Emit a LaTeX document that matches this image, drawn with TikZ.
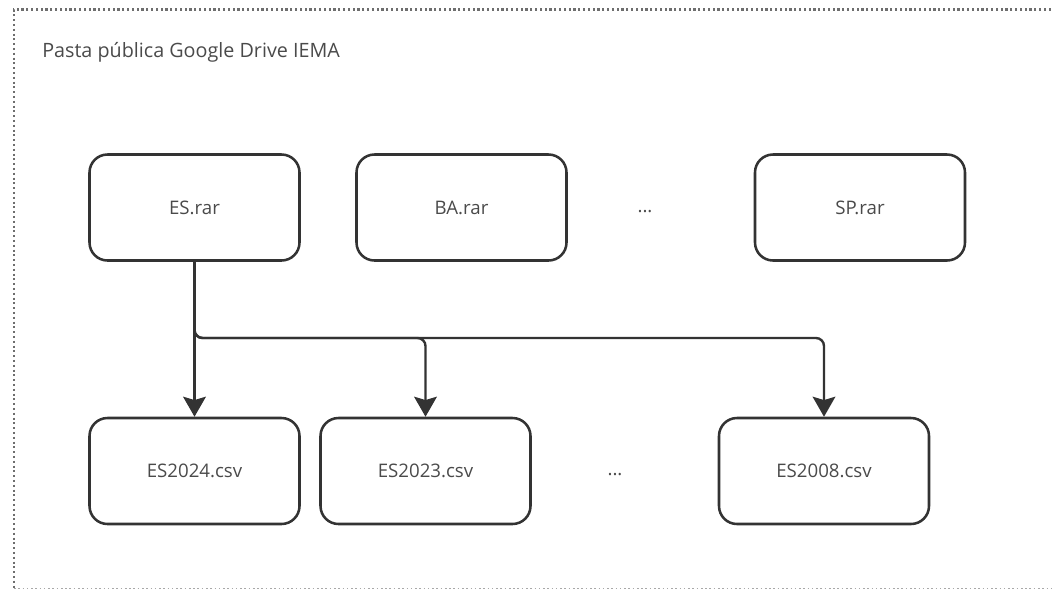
\documentclass[tikz,border=0pt]{standalone}
\usepackage{fontspec}
\setmainfont{Open Sans}
\usetikzlibrary{arrows.meta}
\definecolor{txt}{HTML}{4A4A4A}
\definecolor{edge}{HTML}{333333}
\definecolor{frame}{HTML}{6E6E6E}
\begin{document}
\begin{tikzpicture}[x=0.75pt,y=-0.75pt,
  filebox/.style={draw=edge, line width=1.9pt, rounded corners=13.5pt,
    minimum width=157.5pt, minimum height=79.5pt, inner sep=0pt,
    text=txt, font=\fontsize{14}{16}\selectfont},
  dots/.style={text=txt, font=\fontsize{14}{16}\selectfont, inner sep=0pt},
  link/.style={draw=edge, line width=1.8pt, rounded corners=6pt,
    -{Stealth[length=15pt, width=17pt, inset=2.5pt]}}]
  \useasboundingbox (0,0) rectangle (1052,590);
  % shared folder frame (runs past the right edge)
  \draw[frame, line width=1.6pt, dotted] (1070,9.5) -- (14,9.5) -- (14,588.5);
  \draw[frame!60, line width=1.2pt, dotted] (14,588.5) -- (1070,588.5);
  \node[anchor=base west, text=txt, font=\fontsize{14.8}{17}\selectfont, inner sep=0pt]
    (title) at (42,57) {Pasta pública Google Drive IEMA};
  % archives per state
  \node[filebox] (es) at (194.5,207.5) {ES.rar};
  \node[filebox] (ba) at (461.5,207.5) {BA.rar};
  \node[dots] (topdots) at (645,212) {...};
  \node[filebox] (sp) at (860,207.5) {SP.rar};
  % yearly csv files
  \node[filebox] (es24) at (194.5,471) {ES2024.csv};
  \node[filebox] (es23) at (425.5,471) {ES2023.csv};
  \node[dots] (botdots) at (615,475) {...};
  \node[filebox] (es08) at (824,471) {ES2008.csv};
  % extraction links
  \coordinate (bus) at (195,338);
  \draw[link] (es.south) -- (es24.north);
  \draw[link] (es.south) -- (es.south |- bus) -| (es23.north);
  \draw[link] (es.south) -- (es.south |- bus) -| (es08.north);
\end{tikzpicture}
\end{document}
